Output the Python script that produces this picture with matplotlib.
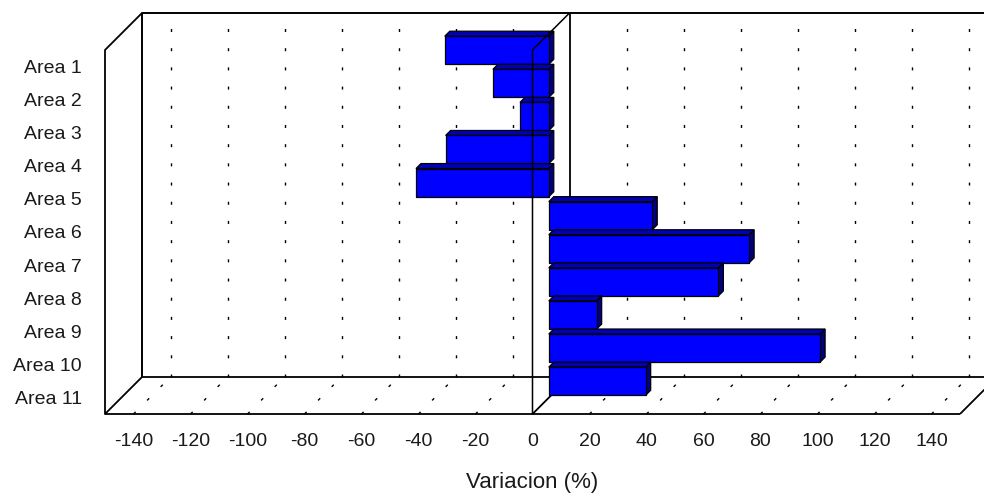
import matplotlib
matplotlib.use("Agg")
import matplotlib.pyplot as plt
from matplotlib.patches import Polygon

plt.rcParams['font.family'] = ['Liberation Sans', 'DejaVu Sans']

# Data
areas = ["Area 1", "Area 2", "Area 3", "Area 4", "Area 5", "Area 6",
         "Area 7", "Area 8", "Area 9", "Area 10", "Area 11"]
variacion = [-36.5, -19.6, -10.1, -36.2, -46.6, 36.3, 70.3, 59.5, 16.8, 95.2, 34.0]
x_ticks = list(range(-140, 141, 20))
x_min, x_max = -150, 150

# Oblique 3D look: depth is a pixel shift up and to the right
DEPTH_PX = 37
BAR_D0, BAR_D1 = 0.44, 0.575     # bar slab position within the depth
BAR_H = 0.85                     # bar thickness as a fraction of a category band
FRONT, TOP, SIDE = "#0000FF", "#0000B4", "#000080"
TXT = "#1a1a1a"

fig = plt.figure(figsize=(9.84, 4.97), dpi=100)
fig.patch.set_facecolor("white")
ax = fig.add_axes([105 / 984, 83 / 497, 855 / 984, 364 / 497])
n = len(areas)
ax.set_xlim(x_min, x_max)
ax.set_ylim(n, 0)
for s in ax.spines.values():
    s.set_visible(False)
ax.patch.set_visible(False)

fig.canvas.draw()
bb = ax.get_window_extent()
DX = DEPTH_PX / (bb.width / (x_max - x_min))
DY = DEPTH_PX / (bb.height / n)


def p(x, y, d):
    """Data point (x, y) pushed back by depth fraction d."""
    return (x + d * DX, y - d * DY)


def line(pts, z=1, lw=1.3, ls="-", color="black"):
    xs, ys = zip(*pts)
    ax.plot(xs, ys, color=color, lw=lw, ls=ls, zorder=z, clip_on=False,
            solid_capstyle="butt", dash_capstyle="butt")


DOT = (0, (2.16, 11.66))

# Back wall grid (dotted) and floor grid
for v in x_ticks:
    if v == 0:
        continue
    line([p(v, n, 1), p(v, 0, 1)], z=1, lw=1.0, ls=DOT)
    line([p(v, n, 0), p(v, n, 1)], z=1, lw=1.0, ls=DOT)

# Back wall outline
line([p(x_min, n, 1), p(x_min, 0, 1), p(x_max, 0, 1)], z=2, lw=1.4)
line([p(x_min, n, 1), p(x_max, n, 1), p(x_max, n, 0)], z=2)
# Left side wall and floor front edge
line([p(x_min, 0, 1), p(x_min, 0, 0), p(x_min, n, 0), p(x_min, n, 1)], z=2)
line([p(x_min, n, 0), p(x_max, n, 0)], z=2)
# Zero wall: back edge and floor edge sit behind the bars
line([p(0, 0, 1), p(0, n, 1)], z=2)
line([p(0, n, 0), p(0, n, 1)], z=2)

# Bars
for i, v in enumerate(variacion):
    yt = i + 0.5 - BAR_H / 2
    yb = i + 0.5 + BAR_H / 2
    xr = max(v, 0)
    side = [p(xr, yt, BAR_D0), p(xr, yt, BAR_D1), p(xr, yb, BAR_D1), p(xr, yb, BAR_D0)]
    top = [p(0, yt, BAR_D0), p(v, yt, BAR_D0), p(v, yt, BAR_D1), p(0, yt, BAR_D1)]
    front = [p(0, yt, BAR_D0), p(v, yt, BAR_D0), p(v, yb, BAR_D0), p(0, yb, BAR_D0)]
    for pts, fc in ((side, SIDE), (top, TOP), (front, FRONT)):
        ax.add_patch(Polygon(pts, closed=True, facecolor=fc, edgecolor="black",
                             lw=0.9, zorder=3 + i * 0.01, clip_on=False))

# Zero wall front edges drawn over the bars
line([p(0, n, 0), p(0, 0, 0), p(0, 0, 1)], z=5, lw=1.1)

# Axis labels
ax.set_xticks(x_ticks)
ax.set_xticklabels([str(t) for t in x_ticks], fontsize=14, color=TXT)
ax.set_yticks([i + 0.5 for i in range(n)])
ax.set_yticklabels(areas, fontsize=14, color=TXT)
ax.tick_params(axis="x", length=0, pad=13.5)
ax.tick_params(axis="y", length=0, pad=16.5)
ax.set_xlabel("Variacion (%)", fontsize=16, color=TXT)
ax.xaxis.set_label_coords(0.5, -0.16)
ax.xaxis.label.set_verticalalignment("top")

fig.savefig("out.png", dpi=100, facecolor="white")
